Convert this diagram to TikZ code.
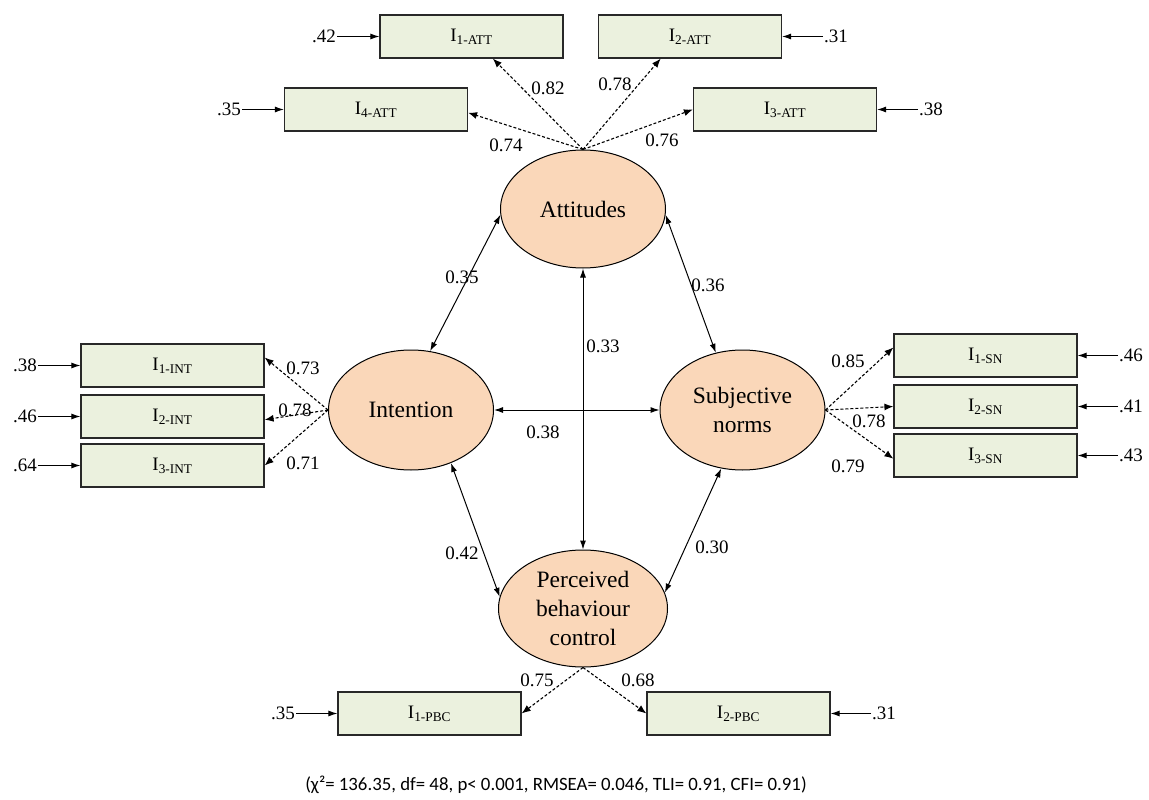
\documentclass[tikz,border=0pt]{standalone}
\usepackage{fontspec}
\setmainfont{Liberation Serif}
\newfontfamily\footfont{Carlito}
\usetikzlibrary{shapes.geometric,arrows.meta,calc}
\definecolor{boxfill}{RGB}{235,241,222}
\definecolor{latfill}{RGB}{250,215,185}
\definecolor{boxdraw}{RGB}{40,40,40}
\begin{document}
\begin{tikzpicture}[x=1pt,y=-1pt,
 ind/.style={draw=boxdraw,fill=boxfill,line width=1.2pt,minimum width=183pt,minimum height=43pt,inner sep=0pt,font=\fontsize{19}{20}\selectfont},
 lat/.style={ellipse,draw,fill=latfill,line width=1pt,inner sep=0pt,align=center,font=\fontsize{23.5}{29}\selectfont},
 num/.style={font=\fontsize{19}{22}\selectfont,inner sep=0pt},
 errlab/.style={font=\fontsize{19}{22}\selectfont,inner sep=1pt},
 load/.style={densely dashed,line width=1.1pt,-{Latex[length=9pt,width=7pt]}},
 cov/.style={line width=1pt,{Latex[length=9pt,width=6pt]}-{Latex[length=9pt,width=6pt]}},
 err/.style={line width=1pt,-{Latex[length=9pt,width=6pt]}},
]
\useasboundingbox (0,0) rectangle (1149,800);
\fill[white] (0,0) rectangle (1149,800);

% latent variables
\node[lat,minimum width=165pt,minimum height=118pt] (att) at (583,209) {Attitudes};
\node[lat,minimum width=165pt,minimum height=120pt] (int) at (411,410) {Intention};
\node[lat,minimum width=165pt,minimum height=120pt] (sn) at (742.5,410) {Subjective\\norms};
\node[lat,minimum width=169pt,minimum height=117pt] (pbc) at (583,608.5) {Perceived\\behaviour\\control};

% indicators
\node[ind] (i1att) at (471.5,36.5) {I\textsubscript{1-ATT}};
\node[ind] (i4att) at (376,109.5) {I\textsubscript{4-ATT}};
\node[ind] (i2att) at (690,36.5) {I\textsubscript{2-ATT}};
\node[ind] (i3att) at (785,109.5) {I\textsubscript{3-ATT}};
\node[ind] (i1int) at (172.5,365.5) {I\textsubscript{1-INT}};
\node[ind] (i2int) at (172.5,416.5) {I\textsubscript{2-INT}};
\node[ind] (i3int) at (172.5,465.5) {I\textsubscript{3-INT}};
\node[ind] (i1sn) at (985.5,355.5) {I\textsubscript{1-SN}};
\node[ind] (i2sn) at (985.5,406.5) {I\textsubscript{2-SN}};
\node[ind] (i3sn) at (985.5,455.5) {I\textsubscript{3-SN}};
\node[ind] (i1pbc) at (429.5,713.5) {I\textsubscript{1-PBC}};
\node[ind] (i2pbc) at (738.5,713.5) {I\textsubscript{2-PBC}};

% error terms
\node[errlab,anchor=east] (e1att) at (337,36.5) {.42};
\node[errlab,anchor=east] (e4att) at (242,109.5) {.35};
\node[errlab,anchor=west] (e2att) at (823,36.5) {.31};
\node[errlab,anchor=west] (e3att) at (918,109.5) {.38};
\node[errlab,anchor=east] (e1int) at (38,365.5) {.38};
\node[errlab,anchor=east] (e2int) at (38,416.5) {.46};
\node[errlab,anchor=east] (e3int) at (38,465.5) {.64};
\node[errlab,anchor=west] (e1sn) at (1118,355.5) {.46};
\node[errlab,anchor=west] (e2sn) at (1118,406.5) {.41};
\node[errlab,anchor=west] (e3sn) at (1118,455.5) {.43};
\node[errlab,anchor=east] (e1pbc) at (296,713.5) {.35};
\node[errlab,anchor=west] (e2pbc) at (871,713.5) {.31};

\draw[err] (e1att.east) -- (i1att.west);
\draw[err] (e4att.east) -- (i4att.west);
\draw[err] (e2att.west) -- (i2att.east);
\draw[err] (e3att.west) -- (i3att.east);
\draw[err] (e1int.east) -- (i1int.west);
\draw[err] (e2int.east) -- (i2int.west);
\draw[err] (e3int.east) -- (i3int.west);
\draw[err] (e1sn.west) -- (i1sn.east);
\draw[err] (e2sn.west) -- (i2sn.east);
\draw[err] (e3sn.west) -- (i3sn.east);
\draw[err] (e1pbc.east) -- (i1pbc.west);
\draw[err] (e2pbc.west) -- (i2pbc.east);

% loadings
\draw[load] (att.north) -- (i1att.-46);
\draw[load] (att.north) -- (i4att.-2);
\draw[load] (att.north) -- (i2att.217);
\draw[load] (att.north) -- (i3att.west);
\draw[load] (int.west) -- (i1int.5);
\draw[load] (int.west) -- (i2int.-2);
\draw[load] (int.west) -- (i3int.east);
\draw[load] (sn.east) -- (i1sn.175);
\draw[load] (sn.east) -- (i2sn.west);
\draw[load] (sn.east) -- (i3sn.182);
\draw[load] (pbc.south) -- (i1pbc.east);
\draw[load] (pbc.south) -- (i2pbc.west);

% covariances
\draw[cov] (att.184) -- (int.72);
\draw[cov] (att.-4) -- (sn.115);
\draw[cov] (att.south) -- (pbc.north);
\draw[cov] (int.east) -- (sn.west);
\draw[cov] (int.-53) -- (pbc.172);
\draw[cov] (sn.-110) -- (pbc.11);

% loading labels
\node[num] (l1) at (548,88) {0.82};
\node[num] (l2) at (615,84) {0.78};
\node[num] (l3) at (506,145) {0.74};
\node[num] (l4) at (662,140) {0.76};
\node[num] (l5) at (303,368) {0.73};
\node[num] (l6) at (295,410) {0.78};
\node[num] (l7) at (303,463) {0.71};
\node[num] (l8) at (848,361) {0.85};
\node[num] (l9) at (869,421) {0.78};
\node[num] (l10) at (848,466) {0.79};
\node[num] (l11) at (537,680) {0.75};
\node[num] (l12) at (638,680) {0.68};
% covariance labels
\node[num] (c1) at (462,277) {0.35};
\node[num] (c2) at (708,285) {0.36};
\node[num] (c3) at (603,346) {0.33};
\node[num] (c4) at (543,432) {0.38};
\node[num] (c5) at (462,553) {0.42};
\node[num] (c6) at (712,547) {0.30};

\node[font=\footfont\fontsize{18.8}{22}\selectfont,inner sep=0pt] (fit) at (556,785) {(χ²= 136.35, df= 48, p< 0.001, RMSEA= 0.046, TLI= 0.91, CFI= 0.91)};
\end{tikzpicture}
\end{document}
